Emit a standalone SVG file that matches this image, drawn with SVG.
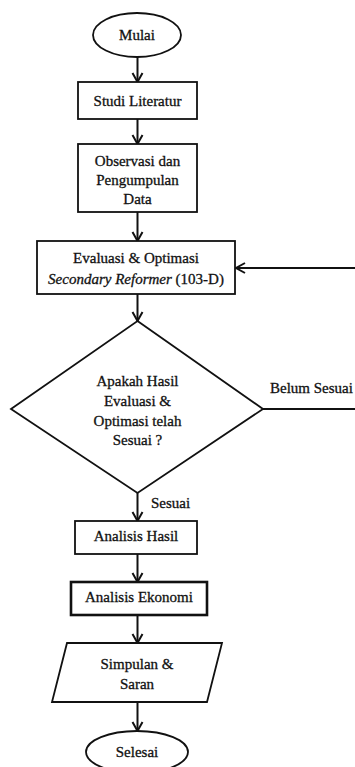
<svg xmlns="http://www.w3.org/2000/svg" width="355" height="767" viewBox="0 0 355 767">
<style>
.shape{fill:#fff;stroke:#111;stroke-width:1.8}
.thick{stroke-width:2.6}
.t{font-family:"Liberation Serif","Times New Roman",serif;font-size:15px;fill:#111;stroke:#111;stroke-width:0.3;text-anchor:middle}
.l{font-family:"Liberation Serif","Times New Roman",serif;font-size:15px;fill:#111;stroke:#111;stroke-width:0.3}
.c{fill:none;stroke:#111;stroke-width:2}
</style>
<defs>
<marker id="arr" markerUnits="userSpaceOnUse" markerWidth="14" markerHeight="14" refX="10" refY="6" orient="auto" viewBox="0 0 14 12">
<path d="M1,1 L10,6 L1,11" fill="none" stroke="#111" stroke-width="2"/>
</marker>
</defs>
<rect width="355" height="767" fill="#fff"/>
<g id="connectors">
<line class="c" x1="137.5" y1="57" x2="137.5" y2="82" marker-end="url(#arr)"/>
<line class="c" x1="137.5" y1="119" x2="137.5" y2="144" marker-end="url(#arr)"/>
<line class="c" x1="137.5" y1="212" x2="137.5" y2="241" marker-end="url(#arr)"/>
<line class="c" x1="137.5" y1="294" x2="137.5" y2="321" marker-end="url(#arr)"/>
<line class="c" x1="137.5" y1="493" x2="137.5" y2="521" marker-end="url(#arr)"/>
<line class="c" x1="137.5" y1="554" x2="137.5" y2="582" marker-end="url(#arr)"/>
<line class="c" x1="137.5" y1="615" x2="137.5" y2="643" marker-end="url(#arr)"/>
<line class="c" x1="137.5" y1="702" x2="137.5" y2="731" marker-end="url(#arr)"/>
<path class="c" d="M263,409 H358 V268 H236" marker-end="url(#arr)"/>
<text class="l" x="270" y="393">Belum Sesuai</text>
<text class="l" x="151" y="508">Sesuai</text>
</g>
<g id="mulai">
<ellipse class="shape" cx="137" cy="35" rx="44" ry="22"/>
<text class="t" x="137" y="40">Mulai</text>
</g>
<g id="studi">
<rect class="shape" x="78" y="82" width="119" height="37"/>
<text class="t" x="137.5" y="106">Studi Literatur</text>
</g>
<g id="observasi">
<rect class="shape" x="78" y="144" width="119" height="68"/>
<text class="t" x="137.5" y="166">Observasi dan</text>
<text class="t" x="137.5" y="185">Pengumpulan</text>
<text class="t" x="137.5" y="204">Data</text>
</g>
<g id="evaluasi">
<rect class="shape" x="37" y="241" width="198" height="53"/>
<text class="t" x="136" y="263">Evaluasi &amp; Optimasi</text>
<text class="t" x="136" y="284"><tspan font-style="italic">Secondary Reformer</tspan> (103-D)</text>
</g>
<g id="decision">
<polygon class="shape" points="137.5,321 263,409 137.5,493 11,409"/>
<text class="t" x="137.5" y="386">Apakah Hasil</text>
<text class="t" x="137.5" y="406">Evaluasi &amp;</text>
<text class="t" x="137.5" y="426">Optimasi telah</text>
<text class="t" x="137.5" y="445">Sesuai ?</text>
</g>
<g id="analisis-hasil">
<rect class="shape" x="75" y="521" width="122" height="33"/>
<text class="t" x="136" y="541">Analisis Hasil</text>
</g>
<g id="analisis-ekonomi">
<rect class="shape thick" x="71" y="582" width="136" height="33"/>
<text class="t" x="139" y="602">Analisis Ekonomi</text>
</g>
<g id="simpulan">
<polygon class="shape" points="67,643 222,643 207,702 52,702"/>
<text class="t" x="137" y="669">Simpulan &amp;</text>
<text class="t" x="137" y="689">Saran</text>
</g>
<g id="selesai">
<ellipse class="shape" cx="137" cy="752" rx="51" ry="21"/>
<text class="t" x="137" y="757">Selesai</text>
</g>
</svg>
